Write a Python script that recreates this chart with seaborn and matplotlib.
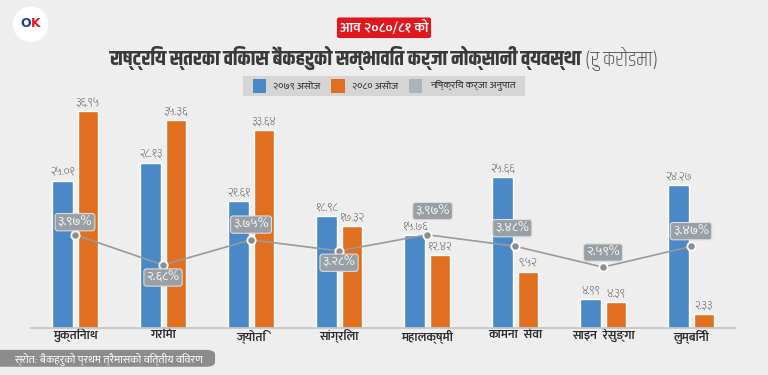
import matplotlib
matplotlib.use("Agg")
import matplotlib.pyplot as plt
import seaborn as sns
import pandas as pd
from matplotlib import font_manager
from matplotlib.patches import FancyBboxPatch, Circle

# data
banks = ["मुक्तिनाथ", "गरिमा", "ज्योति", "सांग्रिला", "महालक्ष्मी",
         "कामना  सेवा", "साइन  रेसुङ्गा", "लुम्बिनी"]
prov_2079 = [25.01, 28.13, 21.61, 18.98, 15.76, 25.66, 4.99, 24.27]
prov_2080 = [36.95, 35.36, 33.64, 17.32, 12.42, 9.52, 4.39, 2.33]
npl_ratio = [3.97, 2.68, 3.75, 3.28, 3.97, 3.48, 2.59, 3.47]
series_names = ["२०७९ असोज", "२०८० असोज"]
npl_name = "निष्क्रिय कर्जा अनुपात"

devnum = str.maketrans("0123456789", "०१२३४५६७८९")


def to_dev(v, fmt="{:.2f}"):
    return fmt.format(v).translate(devnum)


names = set(f.name for f in font_manager.fontManager.ttflist)


def pick(prefs):
    for p in prefs:
        if p in names:
            return p
    return "DejaVu Sans"


body_font = pick(["Mukta", "Hind", "Noto Sans Devanagari", "Yantramanav", "Amiko"])
title_font = pick(["Khand", "Teko", "Rajdhani", "Yantramanav", "Mukta", "Amiko"])

sns.set_theme(style="white")
plt.rcParams["font.family"] = [body_font, "DejaVu Sans"]

blue = "#4a88c8"
orange = "#e0701f"
grey_line = "#9a9a9a"
bg = "#eeeeee"

df = pd.DataFrame({
    "bank": banks * 2,
    "value": prov_2079 + prov_2080,
    "year": [series_names[0]] * len(banks) + [series_names[1]] * len(banks),
})

fig = plt.figure(figsize=(7.68, 3.75), dpi=100, facecolor=bg)
ax = fig.add_axes([0.0404, 0.1253, 0.9167, 0.608])
ax.set_facecolor("none")

sns.barplot(data=df, x="bank", y="value", hue="year",
            palette=[blue, orange], width=0.57, gap=0.2,
            legend=False, ax=ax, saturation=1)
ax.set_xlim(-0.5, 7.5)
ax.set_ylim(0, 38.8)

for cont in ax.containers:
    for bar in cont:
        h = bar.get_height()
        ax.annotate(to_dev(h), (bar.get_x() + bar.get_width() / 2, h),
                    xytext=(0, 2), textcoords="offset points",
                    ha="center", va="bottom", fontsize=8.5, color="#606060",
                    fontweight="light")

for s in ["top", "right", "left"]:
    ax.spines[s].set_visible(False)
ax.spines["bottom"].set_color("#c4c4c4")
ax.set_yticks([])
ax.set_xlabel("")
ax.set_ylabel("")
ax.tick_params(axis="x", length=0, pad=1, labelsize=9, labelcolor="#2a2a2a")
for t in ax.get_xticklabels():
    t.set_fontweight("semibold")

# npl ratio line on its own scale
ax2 = ax.twinx()
ax2.set_facecolor("none")
sns.lineplot(x=list(range(len(banks))), y=npl_ratio, ax=ax2,
             color=grey_line, linewidth=1.2, marker="o", markersize=6,
             markerfacecolor="#8e8e8e", markeredgecolor="white",
             markeredgewidth=1.3)
ax2.set_ylim(0, 9.7)
ax2.set_xlim(-0.5, 7.5)
ax2.axis("off")

label_offsets = [(0, 9), (0, -9), (0, 11), (0, -8.5),
                 (4, 17), (-2, 13), (0, 10.5), (0, 11)]
for i, (v, off) in enumerate(zip(npl_ratio, label_offsets)):
    ax2.annotate(to_dev(v) + "%", (i, v), xytext=off,
                 textcoords="offset points", ha="center", va="center",
                 fontsize=9.5, color="#f4f4f4", zorder=5,
                 bbox=dict(boxstyle="round,pad=0.2,rounding_size=0.2",
                           fc="#98a0a6", ec="#dcdcdc", lw=0.8))

# title area
fig.text(0.5, 0.926, "आव २०८०/८१ को", ha="center", va="center",
         fontsize=10, color="white", fontweight="semibold",
         bbox=dict(boxstyle="round,pad=0.2,rounding_size=0.15",
                   fc="#e2171d", ec="none"))
t1 = fig.text(0, 0.845, "राष्ट्रिय स्तरका विकास बैंकहरुको सम्भावित कर्जा नोक्सानी व्यवस्था",
              ha="left", va="center", fontsize=15, fontweight="bold",
              color="#3a3a3a", family=[title_font, "DejaVu Sans"])
t2 = fig.text(0, 0.845, " (रु करोडमा)", ha="left", va="center",
              fontsize=15, fontweight="light", color="#555555",
              family=[title_font, "DejaVu Sans"])
r = fig.canvas.get_renderer()
w1 = t1.get_window_extent(r).width / fig.bbox.width
w2 = t2.get_window_extent(r).width / fig.bbox.width
x0 = 0.5 - (w1 + w2) / 2
t1.set_x(x0)
t2.set_x(x0 + w1)

# legend box, items laid out one after another
leg_items = [(blue, series_names[0]), (orange, series_names[1]),
             ("#a9b4bd", npl_name)]
sw, gap_in, gap_out, pad = 0.017, 0.01, 0.014, 0.012
texts = []
total = 0
for col, lab in leg_items:
    t = fig.text(0, 0.771, lab, ha="left", va="center",
                 fontsize=7.5, color="#333333", zorder=3)
    tw = t.get_window_extent(r).width / fig.bbox.width
    texts.append((col, t, tw))
    total += sw + gap_in + tw
total += gap_out * (len(leg_items) - 1)
lx = 0.5 - total / 2
fig.patches.append(FancyBboxPatch((lx - pad, 0.745), total + 2 * pad, 0.052,
                                  boxstyle="square,pad=0", fc="#d5d5d5",
                                  ec="none", transform=fig.transFigure,
                                  zorder=1))
for col, t, tw in texts:
    fig.patches.append(FancyBboxPatch((lx, 0.753), sw, 0.037,
                                      boxstyle="square,pad=0", fc=col,
                                      ec="none", transform=fig.transFigure,
                                      zorder=2))
    t.set_x(lx + sw + gap_in)
    lx += sw + gap_in + tw + gap_out

# source box
fig.patches.append(FancyBboxPatch((-0.02, 0.022), 0.3, 0.045,
                                  boxstyle="round,pad=0,rounding_size=0.012",
                                  fc="#8c8c8c", ec="none",
                                  transform=fig.transFigure))
fig.text(0.018, 0.044, "स्रोत: बैंकहरुको प्रथम त्रैमासको वित्तीय विवरण",
         ha="left", va="center", fontsize=8, color="white")

# logo
logo = fig.add_axes([0.015, 0.885, 0.05, 0.1])
logo.set_xlim(-1, 1)
logo.set_ylim(-1, 1)
logo.set_aspect("equal")
logo.axis("off")
logo.add_patch(Circle((0, 0), 0.95, fc="white", ec="none"))
logo.text(0, 0.05, "O", ha="right", va="center", fontsize=9,
          fontweight="bold", color="#1c3f94", family="DejaVu Sans")
logo.text(0, 0.05, "K", ha="left", va="center", fontsize=9,
          fontweight="bold", color="#e2171d", family="DejaVu Sans")

fig.savefig("out.png", dpi=100, facecolor=bg)
